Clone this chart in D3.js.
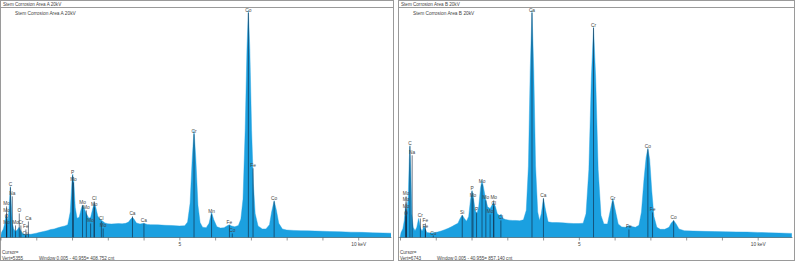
<!DOCTYPE html>
<html>
<head>
<meta charset="utf-8">
<script src="https://cdn.jsdelivr.net/npm/d3@7"></script>
<style>
  html, body { margin: 0; padding: 0; background: #fff; }
  svg { display: block; font-family: "Liberation Sans", Arial, sans-serif; }
</style>
</head>
<body>
<div id="chart"></div>
<script>
// --- Data (keV, counts) ---
const spectrumA = [
  [0.00, 0], [0.03, 120], [0.08, 200], [0.12, 330], [0.15, 520], [0.18, 480], [0.21, 380],
  [0.24, 700], [0.277, 1190], [0.30, 800], [0.33, 330], [0.37, 200], [0.42, 140], [0.47, 180],
  [0.52, 240], [0.57, 160], [0.62, 90], [0.70, 70], [0.78, 80], [0.85, 75], [0.93, 90],
  [1.00, 100], [1.10, 120], [1.20, 140], [1.30, 160], [1.40, 185], [1.50, 200], [1.60, 225],
  [1.70, 250], [1.80, 270], [1.88, 300], [1.95, 600], [2.00, 1350], [2.02, 1480], [2.05, 1300],
  [2.09, 700], [2.14, 450], [2.20, 470], [2.25, 650], [2.29, 760], [2.33, 700], [2.40, 560],
  [2.47, 450], [2.52, 470], [2.57, 650], [2.62, 800], [2.66, 720], [2.72, 500], [2.79, 420],
  [2.84, 390], [2.92, 340], [3.00, 320], [3.10, 315], [3.20, 320], [3.30, 325], [3.40, 320],
  [3.50, 330], [3.58, 360], [3.64, 430], [3.69, 470], [3.74, 420], [3.80, 340], [3.90, 315],
  [4.01, 330], [4.10, 305], [4.20, 300], [4.40, 295], [4.60, 285], [4.80, 280], [5.00, 270],
  [5.15, 275], [5.23, 360], [5.30, 800], [5.36, 1850], [5.41, 2500], [5.46, 1850], [5.52, 750],
  [5.58, 350], [5.65, 240], [5.75, 230], [5.83, 330], [5.90, 590], [5.96, 420], [6.05, 250],
  [6.15, 220], [6.25, 230], [6.35, 280], [6.40, 300], [6.46, 270], [6.55, 250], [6.65, 280],
  [6.72, 430], [6.78, 900], [6.84, 2500], [6.89, 4400], [6.93, 5300], [6.97, 4400], [7.02, 2500],
  [7.07, 1250], [7.12, 560], [7.20, 270], [7.32, 200], [7.42, 200], [7.52, 300], [7.58, 600],
  [7.65, 860], [7.71, 650], [7.78, 330], [7.88, 200], [8.00, 175], [8.20, 165], [8.40, 160],
  [8.60, 155], [8.80, 150], [9.00, 145], [9.20, 140], [9.50, 135], [9.80, 125], [10.10, 120],
  [10.40, 110], [10.70, 105], [10.95, 100]
];

const spectrumB = [
  [0.00, 0], [0.03, 150], [0.08, 260], [0.12, 500], [0.15, 900], [0.19, 700], [0.23, 1200],
  [0.26, 2300], [0.277, 2700], [0.30, 2000], [0.33, 700], [0.37, 300], [0.42, 200], [0.47, 300],
  [0.52, 560], [0.57, 280], [0.62, 180], [0.67, 350], [0.75, 150], [0.85, 130], [0.95, 140],
  [1.05, 160], [1.15, 190], [1.25, 230], [1.35, 270], [1.45, 320], [1.55, 380], [1.62, 420],
  [1.68, 560], [1.74, 660], [1.80, 560], [1.86, 480], [1.92, 620], [1.97, 1100], [2.013, 1380],
  [2.05, 1200], [2.10, 800], [2.15, 700], [2.20, 900], [2.25, 1450], [2.29, 1680], [2.33, 1500],
  [2.39, 1150], [2.45, 900], [2.52, 850], [2.57, 950], [2.62, 1030], [2.67, 900], [2.72, 700],
  [2.78, 650], [2.83, 680], [2.88, 560], [2.95, 530], [3.05, 510], [3.15, 500], [3.25, 500],
  [3.35, 490], [3.45, 520], [3.53, 800], [3.59, 2100], [3.64, 4900], [3.69, 6680], [3.74, 4900],
  [3.79, 2100], [3.85, 750], [3.90, 500], [3.95, 700], [4.01, 1150], [4.07, 800], [4.14, 460],
  [4.25, 440], [4.40, 440], [4.55, 430], [4.70, 420], [4.85, 410], [5.00, 410], [5.12, 420],
  [5.20, 700], [5.28, 2000], [5.35, 4700], [5.41, 6180], [5.47, 4700], [5.54, 2000], [5.62, 650],
  [5.70, 400], [5.80, 400], [5.88, 800], [5.95, 1150], [6.01, 850], [6.10, 400], [6.20, 310],
  [6.30, 300], [6.40, 350], [6.48, 320], [6.58, 300], [6.68, 360], [6.75, 750], [6.82, 1700],
  [6.88, 2350], [6.93, 2620], [6.98, 2300], [7.04, 1350], [7.10, 620], [7.18, 300], [7.28, 240],
  [7.40, 240], [7.52, 300], [7.58, 420], [7.65, 500], [7.72, 400], [7.80, 250], [7.95, 200],
  [8.20, 190], [8.50, 180], [8.80, 175], [9.10, 170], [9.40, 165], [9.70, 160], [10.00, 150],
  [10.30, 140], [10.60, 130], [10.95, 120]
];

// element markers: [label, keV, counts at label]
const markersA = [
  ["C", 0.277, 1193], ["Na", 0.33, 983], ["Mo", 0.17, 749], ["Mo", 0.17, 585], ["O", 0.17, 445],
  ["Mo", 0.17, 304], ["O", 0.525, 585], ["Mo", 0.42, 304], ["Cr", 0.57, 304], ["Fe", 0.71, 211],
  ["Ca", 0.78, 398], ["Cu", 0.70, 70], ["P", 2.013, 1474], ["Mo", 2.04, 1310], ["Mo", 2.293, 772],
  ["Mo", 2.40, 655], ["Cl", 2.62, 866], ["Mo", 2.62, 725], ["Mo", 2.52, 351], ["Cl", 2.82, 398],
  ["Mo", 2.87, 234], ["Ca", 3.69, 515], ["Ca", 4.01, 351], ["Cr", 5.41, 2434], ["Mn", 5.90, 562],
  ["Fe", 6.40, 304], ["Co", 6.48, 117], ["Co", 6.93, 5265], ["Fe", 7.06, 1638], ["Co", 7.65, 866]
];

const markersB = [
  ["C", 0.277, 2710], ["Na", 0.34, 2444], ["Mo", 0.17, 1237], ["Mo", 0.17, 1060], ["Mo", 0.17, 854],
  ["O", 0.17, 648], ["Cr", 0.57, 589], ["Fe", 0.71, 442], ["Fe", 0.71, 265], ["Cu", 0.93, 88],
  ["Si", 1.74, 677], ["P", 2.013, 1384], ["Mo", 2.04, 1178], ["P", 2.14, 766], ["Mo", 2.293, 1590],
  ["Mo", 2.40, 1119], ["Mo", 2.52, 707], ["Mo", 2.62, 1119], ["Cl", 2.62, 942], ["Cl", 2.82, 530],
  ["Ca", 3.69, 6626], ["Ca", 4.01, 1178], ["Cr", 5.41, 6185], ["Cr", 5.95, 1090], ["Fe", 6.40, 265],
  ["Co", 6.93, 2621], ["Fe", 7.06, 766], ["Co", 7.65, 530]
];

const keVTicks = [0, 1, 2, 3, 4, 5, 6, 7, 8, 9, 10];
const keVTickLabels = ["", "", "", "", "", "5", "", "", "", "", "10 keV"];

const panels = [
  { header: "Stem Corrosion Area A 20kV", title: "Stem Corrosion Area A 20kV", vert: 5355,
    window: "Window 0.005 - 40.955= 408.752 cnt", spectrum: spectrumA, markers: markersA,
    left: 0.5, right: 393.5, origin: 0.5, windowX: 39 },
  { header: "Stem Corrosion Area B 20kV", title: "Stem Corrosion Area B 20kV", vert: 6743,
    window: "Window 0.005 - 40.955= 857.140 cnt", spectrum: spectrumB, markers: markersB,
    left: 398.5, right: 794.5, origin: 400, windowX: 437 }
];

// --- Layout constants ---
const W = 795, H = 263;
const headerY = 7.5;
const baseY = 237.5;
const topY = 8;
const pxPerKeV = 35.77;
const fillColor = "#1ba0e0";
const textColor = "#444";

const svg = d3.select("#chart").append("svg")
  .attr("width", W).attr("height", H);

function drawPanel(p, idx) {
  const g = svg.append("g").attr("class", "panel");

  // outer frame + header bar
  g.append("rect")
    .attr("x", p.left).attr("y", 0.5)
    .attr("width", p.right - p.left).attr("height", 260)
    .attr("fill", "#fff").attr("stroke", "#9a9a9a").attr("stroke-width", 1);
  g.append("line")
    .attr("x1", p.left).attr("x2", p.right)
    .attr("y1", headerY).attr("y2", headerY)
    .attr("stroke", "#9a9a9a");
  g.append("text")
    .attr("x", p.left + 2.5).attr("y", 5.6)
    .attr("font-size", 4.6).attr("fill", textColor)
    .text(p.header);

  // scales
  const x = d3.scaleLinear().domain([0, 10]).range([p.origin, p.origin + 10 * pxPerKeV]);
  const y = d3.scaleLinear().domain([0, p.vert]).range([baseY, topY]);

  const clipId = "clip" + idx;
  svg.append("clipPath").attr("id", clipId)
    .append("rect")
    .attr("x", p.left + 0.5).attr("y", headerY + 0.5)
    .attr("width", p.right - p.left - 3).attr("height", baseY - headerY);

  const plot = g.append("g").attr("clip-path", `url(#${clipId})`);

  // spectrum area
  const area = d3.area()
    .x((d) => x(d[0]))
    .y0(baseY)
    .y1((d) => y(d[1]));
  plot.append("path")
    .datum(p.spectrum)
    .attr("d", area)
    .attr("fill", fillColor)
    .attr("stroke", fillColor)
    .attr("stroke-width", 0.4);

  // element marker lines
  plot.selectAll(".marker")
    .data(p.markers)
    .join("line")
    .attr("class", "marker")
    .attr("x1", (d) => x(d[1])).attr("x2", (d) => x(d[1]))
    .attr("y1", baseY).attr("y2", (d) => y(d[2]) + 1)
    .attr("stroke", "#10243a").attr("stroke-width", 0.6);

  // element labels
  plot.selectAll(".mlabel")
    .data(p.markers)
    .join("text")
    .attr("class", "mlabel")
    .attr("x", (d) => x(d[1])).attr("y", (d) => y(d[2]))
    .attr("text-anchor", "middle")
    .attr("font-size", 4.8).attr("fill", textColor)
    .text((d) => d[0]);

  // inner title
  g.append("text")
    .attr("x", p.left + 14.5).attr("y", 15)
    .attr("font-size", 4.8).attr("fill", textColor)
    .text(p.title);

  // energy axis
  const axis = g.append("g")
    .attr("transform", `translate(0, ${baseY})`)
    .call(d3.axisBottom(x).tickValues(keVTicks).tickSize(3)
      .tickFormat((d, i) => keVTickLabels[i]));
  axis.select(".domain").remove();
  axis.selectAll(".tick line").attr("stroke", "#555").attr("stroke-width", 0.6);
  axis.selectAll(".tick text")
    .attr("font-size", 4.8).attr("fill", textColor).attr("dy", "0.55em")
    .attr("font-family", "Liberation Sans, Arial, sans-serif");
  g.append("line")
    .attr("x1", p.left).attr("x2", p.right - 2)
    .attr("y1", baseY).attr("y2", baseY)
    .attr("stroke", "#555").attr("stroke-width", 0.6);

  // footer text
  g.append("text")
    .attr("x", p.left + 1.5).attr("y", 253.5)
    .attr("font-size", 4.6).attr("fill", textColor)
    .text("Cursor=");
  g.append("text")
    .attr("x", p.left + 1.5).attr("y", 259.5)
    .attr("font-size", 4.6).attr("fill", textColor)
    .text("Vert=" + p.vert);
  g.append("text")
    .attr("x", p.windowX).attr("y", 259.5)
    .attr("font-size", 4.6).attr("fill", textColor)
    .text(p.window);
}

panels.forEach(drawPanel);
</script>
</body>
</html>
